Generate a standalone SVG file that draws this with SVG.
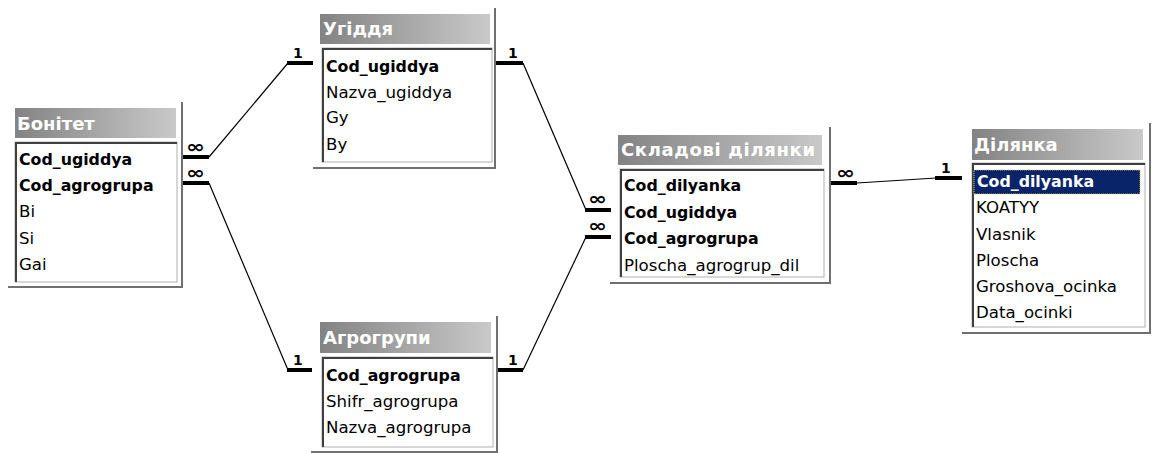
<svg xmlns="http://www.w3.org/2000/svg" width="1154" height="453" viewBox="0 0 1154 453">
<defs>
<linearGradient id="tg" x1="0" y1="0" x2="1" y2="0">
<stop offset="0" stop-color="#838383"/>
<stop offset="1" stop-color="#c9c9c9"/>
</linearGradient>
</defs>
<style>
.frame{fill:none;stroke:#707070;stroke-width:2}
.title{fill:url(#tg)}
.ttxt{font-family:"DejaVu Sans",sans-serif;font-weight:bold;font-size:18px;fill:#ffffff}
.body{fill:#ffffff;stroke:#b0b0b0;stroke-width:1}
.inset{fill:none;stroke:#404040;stroke-width:2}
.f{font-family:"DejaVu Sans",sans-serif;font-size:16.6px;fill:#000}
.k{font-family:"DejaVu Sans",sans-serif;font-size:15.8px;font-weight:bold;fill:#000}
.bar{stroke:#000;stroke-width:4;fill:none}
.ln{stroke:#000;stroke-width:1.2;fill:none}
.one{font-family:"DejaVu Sans",sans-serif;font-size:14px;font-weight:bold;fill:#000}
.inf{font-family:"DejaVu Sans",sans-serif;font-size:18px;font-weight:bold;fill:#000}
</style>
<rect width="1154" height="453" fill="#ffffff"/>

<g id="connectors">
<!-- Бонітет - Угіддя -->
<line class="bar" x1="182" y1="157" x2="209" y2="157"/>
<text class="inf" x="186" y="152.5" textLength="19" lengthAdjust="spacingAndGlyphs">∞</text>
<line class="ln" x1="209" y1="157" x2="288" y2="63"/>
<line class="bar" x1="287" y1="63" x2="313" y2="63"/>
<text class="one" x="293" y="58">1</text>
<!-- Бонітет - Агрогрупи -->
<line class="bar" x1="182" y1="183" x2="209" y2="183"/>
<text class="inf" x="186" y="178.5" textLength="19" lengthAdjust="spacingAndGlyphs">∞</text>
<line class="ln" x1="209" y1="183" x2="288" y2="370"/>
<line class="bar" x1="287" y1="370" x2="312" y2="370"/>
<text class="one" x="293" y="365">1</text>
<!-- Угіддя - Складові -->
<line class="bar" x1="495" y1="63" x2="523" y2="63"/>
<text class="one" x="508" y="58">1</text>
<line class="ln" x1="523" y1="63" x2="586" y2="210"/>
<line class="bar" x1="585" y1="210" x2="611" y2="210"/>
<text class="inf" x="588" y="204.5" textLength="19" lengthAdjust="spacingAndGlyphs">∞</text>
<!-- Агрогрупи - Складові -->
<line class="bar" x1="497" y1="370" x2="523" y2="370"/>
<text class="one" x="508" y="365">1</text>
<line class="ln" x1="523" y1="370" x2="586" y2="237"/>
<line class="bar" x1="585" y1="237" x2="611" y2="237"/>
<text class="inf" x="588" y="231.5" textLength="19" lengthAdjust="spacingAndGlyphs">∞</text>
<!-- Складові - Ділянка -->
<line class="bar" x1="830" y1="183" x2="857" y2="183"/>
<text class="inf" x="836" y="178.5" textLength="19" lengthAdjust="spacingAndGlyphs">∞</text>
<line class="ln" x1="857" y1="183" x2="936" y2="178"/>
<line class="bar" x1="935" y1="178" x2="962" y2="178"/>
<text class="one" x="941" y="173">1</text>
</g>

<g id="bonitet">
<polyline class="frame" points="182,102 182,287 8,287"/>
<rect class="title" x="15" y="108" width="161" height="30"/>
<text class="ttxt" x="17" y="130">Бонітет</text>
<rect class="body" x="15" y="142" width="162" height="140"/>
<polyline class="inset" points="16,282 16,143 177,143"/>
<text class="k" x="19" y="165">Cod_ugiddya</text>
<text class="k" x="19" y="191">Cod_agrogrupa</text>
<text class="f" x="19" y="217">Bi</text>
<text class="f" x="19" y="244">Si</text>
<text class="f" x="19" y="270">Gai</text>
</g>

<g id="ugiddya">
<polyline class="frame" points="495,8 495,168 313,168"/>
<rect class="title" x="320" y="14" width="170" height="30"/>
<text class="ttxt" x="323" y="35">Угіддя</text>
<rect class="body" x="322" y="48" width="170" height="114"/>
<polyline class="inset" points="323,162 323,49 492,49"/>
<text class="k" x="326" y="72">Cod_ugiddya</text>
<text class="f" x="326" y="98">Nazva_ugiddya</text>
<text class="f" x="326" y="123">Gy</text>
<text class="f" x="326" y="150">By</text>
</g>

<g id="agrogrupy">
<polyline class="frame" points="497,316 497,452 311,452"/>
<rect class="title" x="320" y="322" width="171" height="31"/>
<text class="ttxt" x="323" y="344">Агрогрупи</text>
<rect class="body" x="322" y="357" width="171" height="90"/>
<polyline class="inset" points="323,447 323,358 493,358"/>
<text class="k" x="326" y="381">Cod_agrogrupa</text>
<text class="f" x="326" y="407">Shifr_agrogrupa</text>
<text class="f" x="326" y="433">Nazva_agrogrupa</text>
</g>

<g id="skladovi">
<polyline class="frame" points="830,127 830,283 610,283"/>
<rect class="title" x="618" y="135" width="204" height="30"/>
<text class="ttxt" x="621" y="156" textLength="194" lengthAdjust="spacing">Складові ділянки</text>
<rect class="body" x="620" y="169" width="204" height="108"/>
<polyline class="inset" points="621,277 621,170 824,170"/>
<text class="k" x="624" y="191">Cod_dilyanka</text>
<text class="k" x="624" y="218">Cod_ugiddya</text>
<text class="k" x="624" y="244">Cod_agrogrupa</text>
<text class="f" x="624" y="271">Ploscha_agrogrup_dil</text>
</g>

<g id="dilyanka">
<polyline class="frame" points="1150,123 1150,333 962,333"/>
<rect class="title" x="972" y="129" width="171" height="31"/>
<text class="ttxt" x="974" y="151">Ділянка</text>
<rect class="body" x="972" y="163" width="173" height="164"/>
<polyline class="inset" points="973,327 973,164 1145,164"/>
<rect x="974" y="170" width="166" height="24" fill="#0a246a" stroke="#d8c060" stroke-width="1" stroke-dasharray="1,1"/>
<text class="k" x="977" y="187" style="fill:#ffffff">Cod_dilyanka</text>
<text class="f" x="976" y="213">KOATYY</text>
<text class="f" x="976" y="240">Vlasnik</text>
<text class="f" x="976" y="266">Ploscha</text>
<text class="f" x="976" y="292">Groshova_ocinka</text>
<text class="f" x="976" y="318">Data_ocinki</text>
</g>
</svg>
